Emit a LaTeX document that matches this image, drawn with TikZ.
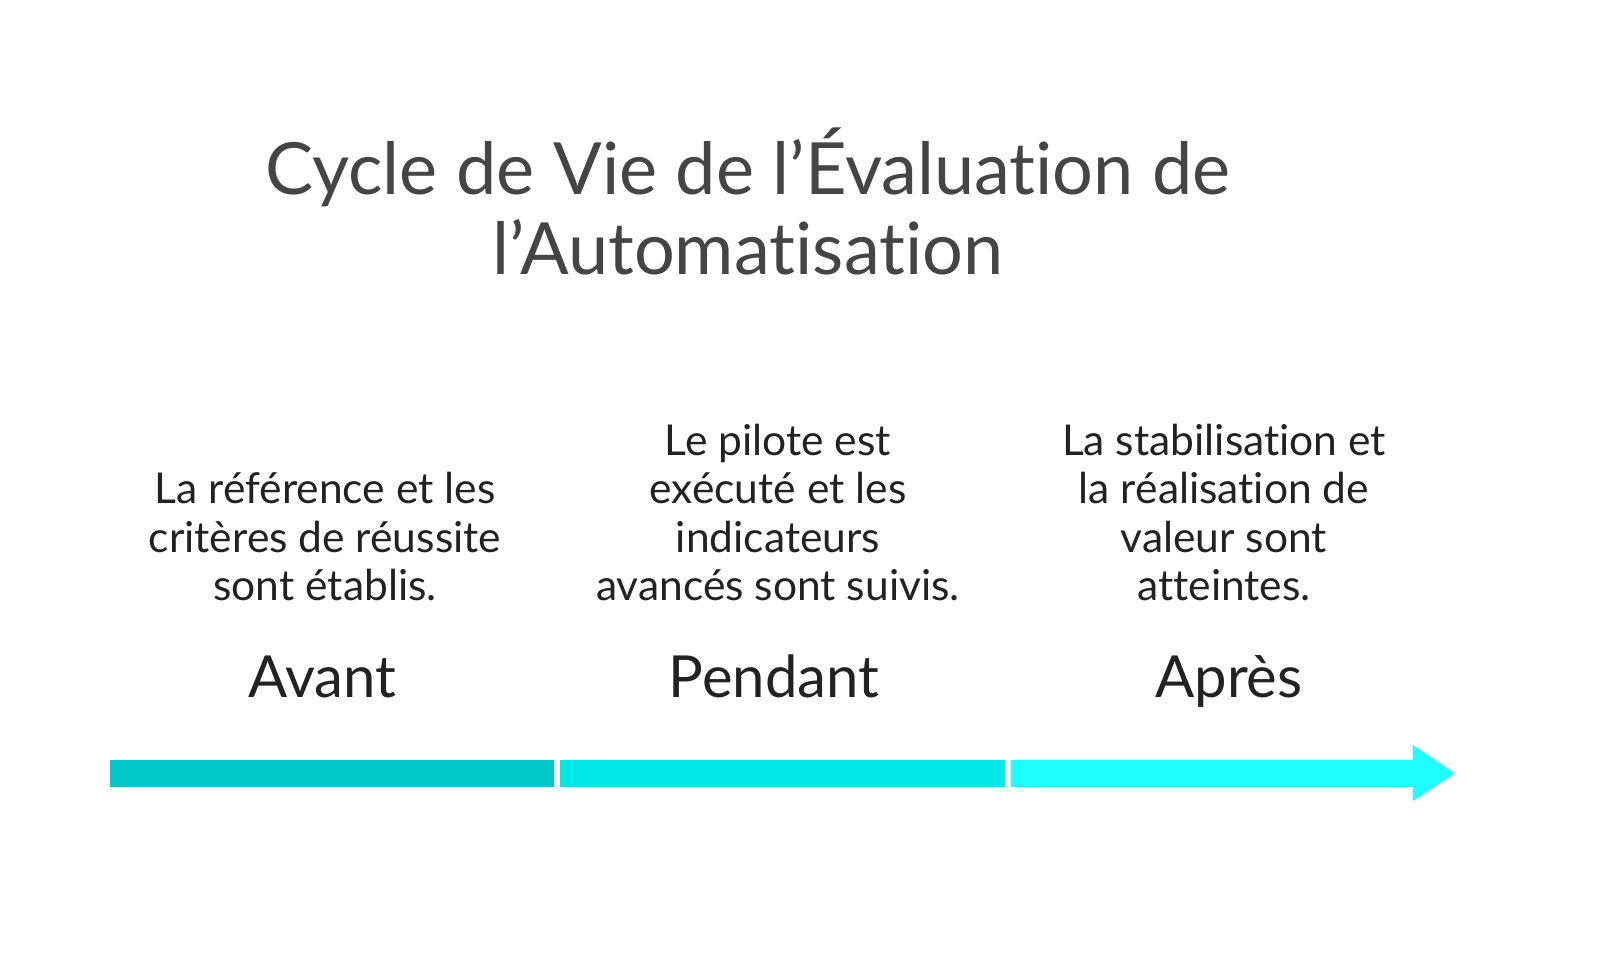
\documentclass[tikz,border=0pt]{standalone}
\usepackage{fontspec}
\setmainfont{Lato}[Ligatures={NoCommon}]
\usetikzlibrary{positioning}
\definecolor{tealA}{HTML}{00C8C8}
\definecolor{tealB}{HTML}{00E8E8}
\definecolor{tealC}{HTML}{1EFFFF}
\definecolor{titlegray}{HTML}{454545}
\definecolor{textdark}{HTML}{222222}
\tikzset{
  phase/.style={anchor=base,inner sep=0pt,font=\fontsize{16.5}{20}\selectfont,text=textdark},
  desc/.style={anchor=south,inner sep=0pt,align=center,text depth=0pt,font=\fontsize{12.1}{13.7}\selectfont,text=textdark},
}
\begin{document}
\begin{tikzpicture}
	\useasboundingbox (0,0) rectangle (16,9.56);
	% title
	\node[anchor=south,inner sep=0pt,align=center,text depth=0pt,text=titlegray,font=\fontsize{20.5}{22.8}\selectfont] (title) at (7.48,6.81) {Cycle de Vie de l’Évaluation de\\l’Automatisation};
	% timeline
	\fill[tealA] (1.10,1.69) rectangle (5.54,1.96);
	\fill[tealB] (5.60,1.69) rectangle (10.05,1.96);
	\fill[tealC] (10.11,1.69) -- (14.13,1.69) -- (14.13,1.55) -- (14.55,1.825) -- (14.13,2.11) -- (14.13,1.96) -- (10.11,1.96) -- cycle;
	% phases
	\node[phase] (avant) at (3.22,2.58) {Avant};
	\node[phase] (pendant) at (7.74,2.58) {Pendant};
	\node[phase] (apres) at (12.29,2.58) {Après};
	\node[desc] (avantdesc) at (3.25,3.55) {La référence et les\\critères de réussite\\sont établis.};
	\node[desc] (pendantdesc) at (7.78,3.55) {Le pilote est\\exécuté et les\\indicateurs\\avancés sont suivis.};
	\node[desc] (apresdesc) at (12.24,3.55) {La stabilisation et\\la réalisation de\\valeur sont\\atteintes.};
\end{tikzpicture}
\end{document}
